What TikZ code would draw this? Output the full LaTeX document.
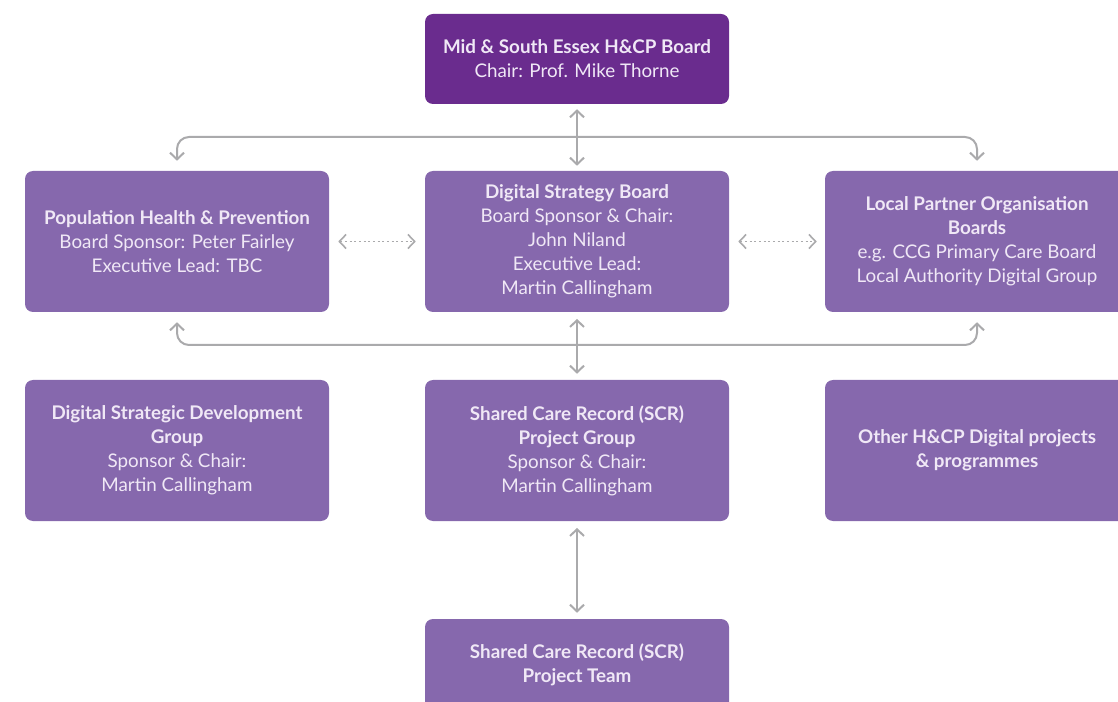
\documentclass[tikz,border=0pt]{standalone}
\usepackage{fontspec}
\setmainfont{Lato}
\usepackage{tikz}
\usetikzlibrary{positioning,arrows.meta}
\definecolor{cTop}{RGB}{106,44,142}
\definecolor{cBox}{RGB}{134,104,173}
\definecolor{cText}{RGB}{240,232,246}
\definecolor{cLink}{RGB}{170,170,172}

\begin{document}
\begin{tikzpicture}[x=0.75pt,y=-0.75pt,
   box/.style={rounded corners=6pt,fill=cBox,text=cText,minimum width=228pt,minimum height=105.75pt,inner sep=0pt,align=center,font=\fontsize{14.1}{18}\selectfont},
   topbox/.style={box,fill=cTop,minimum height=67.5pt},
   link/.style={draw=cLink,line width=1.5pt,{Straight Barb[length=5pt,width=10.5pt]}-{Straight Barb[length=5pt,width=10.5pt]}},
   branch/.style={draw=cLink,line width=1.5pt,rounded corners=9pt,-{Straight Barb[length=5pt,width=10.5pt]}},
   peer/.style={link,dotted,line width=1.2pt}]
  \useasboundingbox (0,0) rectangle (1118,702);
  \clip (0,0) rectangle (1118,702);
  % chair
  \node[topbox] (board) at (577,59) {\textbf{Mid \& South Essex H\&CP Board}\\Chair: Prof. Mike Thorne};
  % boards row
  \node[box] (pophealth) at (177,241.5) {\textbf{Population Health \& Prevention}\\Board Sponsor: Peter Fairley\\Executive Lead: TBC};
  \node[box] (dsb) at (577,241.5) {\textbf{Digital Strategy Board}\\Board Sponsor \& Chair:\\John Niland\\Executive Lead:\\Martin Callingham};
  \node[box] (partners) at (977,241.5) {\textbf{Local Partner Organisation}\\\textbf{Boards}\\e.g. CCG Primary Care Board\\Local Authority Digital Group};
  % groups row
  \node[box] (dsdg) at (177,450.5) {\textbf{Digital Strategic Development}\\\textbf{Group}\\Sponsor \& Chair:\\Martin Callingham};
  \node[box] (scrgroup) at (577,450.5) {\textbf{Shared Care Record (SCR)}\\\textbf{Project Group}\\Sponsor \& Chair:\\Martin Callingham};
  \node[box] (other) at (977,450.5) {\textbf{Other H\&CP Digital projects}\\\textbf{\& programmes}};
  % team
  \node[box,minimum height=69pt] (scrteam) at (577,665) {\textbf{Shared Care Record (SCR)}\\\textbf{Project Team}};
  % buses
  \coordinate (topbus) at (577,137);
  \coordinate (botbus) at (577,345);
  \draw[link,shorten <=3.75pt,shorten >=3.75pt] (board) -- (dsb);
  \draw[branch,shorten >=7.5pt] (topbus) -| (pophealth);
  \draw[branch,shorten >=7.5pt] (topbus) -| (partners);
  \draw[branch,shorten >=7.5pt] (botbus) -| (pophealth);
  \draw[branch,shorten >=7.5pt] (botbus) -| (partners);
  \draw[link,shorten <=5pt,shorten >=4.5pt] (dsb) -- (scrgroup);
  \draw[link,shorten <=5pt,shorten >=4.5pt] (scrgroup) -- (scrteam);
  \draw[peer,shorten <=6.75pt,shorten >=6.75pt] (pophealth) -- (dsb);
  \draw[peer,shorten <=6.75pt,shorten >=6pt] (dsb) -- (partners);
\end{tikzpicture}
\end{document}
